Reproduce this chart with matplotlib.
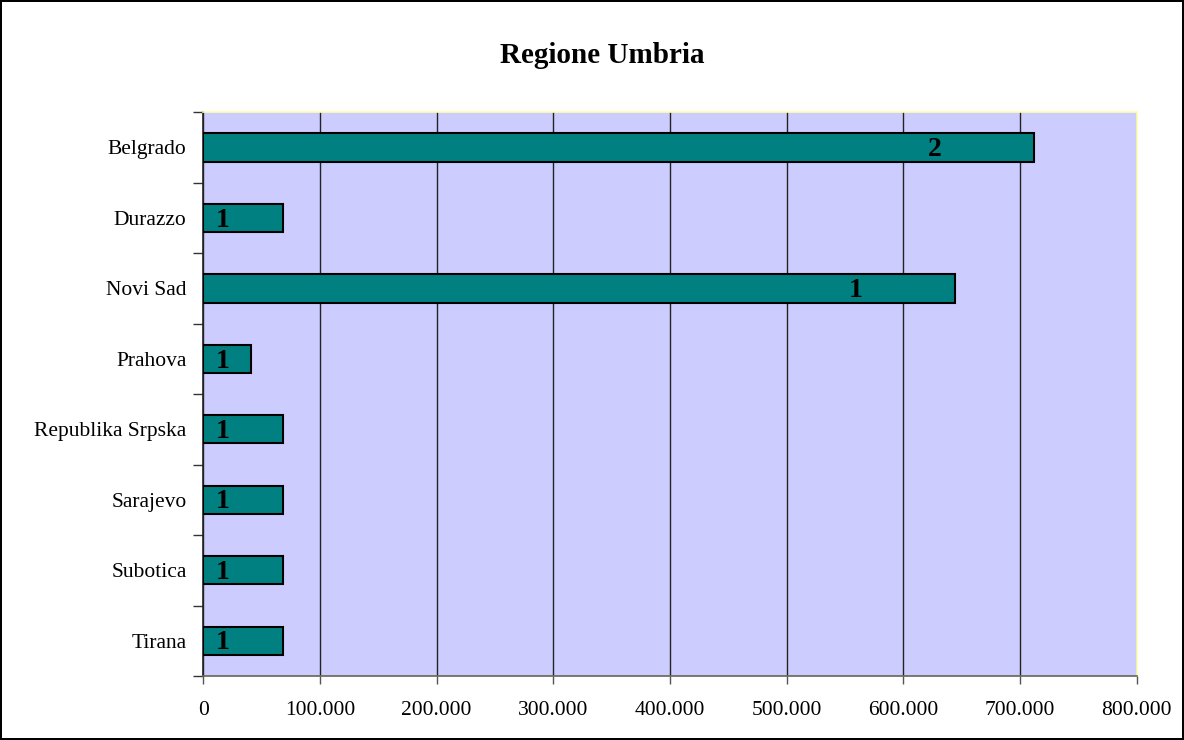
import numpy as np
import matplotlib
matplotlib.use('Agg')
import matplotlib.pyplot as plt
from matplotlib.ticker import FuncFormatter, FixedLocator

citta = ['Belgrado', 'Durazzo', 'Novi Sad', 'Prahova', 'Republika Srpska',
	'Sarajevo', 'Subotica', 'Tirana']
importi = [712000, 68000, 644000, 41000, 68000, 68000, 68000, 68000]
progetti = [2, 1, 1, 1, 1, 1, 1, 1]

plt.rcParams['font.family'] = ['Liberation Serif', 'DejaVu Serif']

fig = plt.figure(figsize=(11.84, 7.40), dpi=100)
fig.patch.set_facecolor('white')
fig.patch.set_edgecolor('black')
fig.patch.set_linewidth(1.5)
ax = fig.add_axes([0.1717, 0.0865, 0.7882, 0.7618])
ax.set_facecolor('#CCCCFF')

y = np.arange(len(citta))
ax.barh(y, importi, height=0.4, color='#008080', edgecolor='black', linewidth=1.5, zorder=3)

for yi, v, n in zip(y, importi, progetti):
	xl = max(v - 85000, 17000)
	ax.text(xl, yi + 0.03, str(n), ha='center', va='center', fontsize=20,
		fontweight='bold', color='black', zorder=4)

ax.set_xlim(0, 800000)
ax.set_ylim(len(citta) - 0.5, -0.5)
ax.set_xticks(np.arange(0, 800001, 100000))
ax.xaxis.set_major_formatter(FuncFormatter(lambda v, p: '0' if v == 0 else '{:,.0f}'.format(v).replace(',', '.')))
ax.grid(axis='x', color='#222222', linewidth=1, zorder=1)
ax.set_yticks(y)
ax.set_yticklabels(citta)
ax.yaxis.set_minor_locator(FixedLocator(np.arange(-0.5, len(citta), 1.0)))
ax.tick_params(axis='y', which='major', length=0, pad=12, labelsize=15.5)
ax.tick_params(axis='y', which='minor', length=7, width=1, color='#333333')
ax.tick_params(axis='x', which='major', length=6, width=1, color='#555555', pad=12, labelsize=15.5)

ax.spines['left'].set_color('#222222')
ax.spines['bottom'].set_color('#666655')
ax.spines['top'].set_color('#FFFFAA')
ax.spines['right'].set_color('#FFFFAA')
for s in ax.spines.values():
	s.set_linewidth(1.2)

fig.text(0.509, 0.925, 'Regione Umbria', ha='center', va='center', fontsize=21, fontweight='bold')

fig.savefig('out.png', dpi=100)
